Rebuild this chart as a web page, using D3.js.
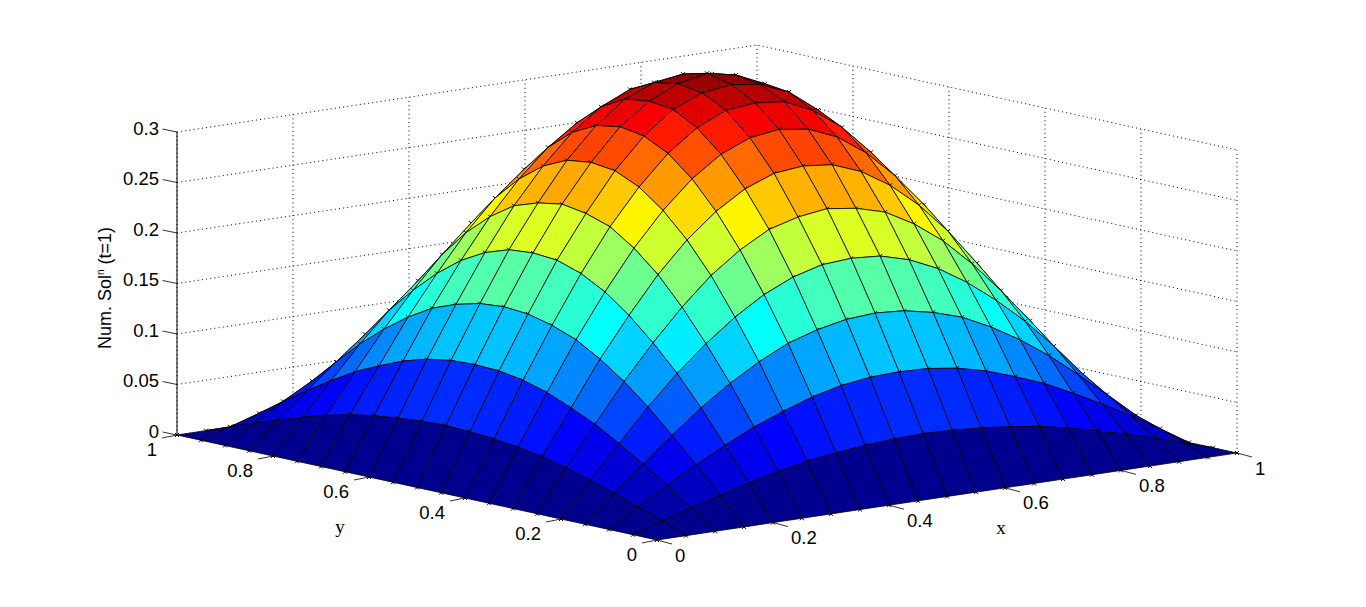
<!DOCTYPE html>
<html>
<head>
<meta charset="utf-8">
<script src="https://d3js.org/d3.v7.min.js"></script>
<style>
  body { margin: 0; background: white; }
  text { font-family: 'Liberation Sans', Arial, sans-serif; font-size: 18.5px; fill: #000; }
  .axis-name { font-family: 'Liberation Serif', 'Times New Roman', serif; font-size: 19px; }
  .z-name { font-size: 18px; }
</style>
</head>
<body>
<div id="chart"></div>
<script>
const gridX = [0,0.05,0.1,0.15,0.2,0.25,0.3,0.35,0.4,0.45,0.5,0.55,0.6,0.65,0.7,0.75,0.8,0.85,0.9,0.95,1]
const gridY = [0,0.05,0.1,0.15,0.2,0.25,0.3,0.35,0.4,0.45,0.5,0.55,0.6,0.65,0.7,0.75,0.8,0.85,0.9,0.95,1]

// surface heights, one row per x
const surfaceZ = [
  [0,0,0,0,0,0,0,0,0,0,0,0,0,0,0,0,0,0,0,0,0],
  [0,.009,.018,.026,.034,.041,.047,.051,.054,.056,.057,.056,.054,.051,.047,.041,.034,.026,.018,.009,0],
  [0,.018,.035,.051,.066,.080,.091,.101,.108,.112,.113,.112,.108,.101,.091,.080,.066,.051,.035,.018,0],
  [0,.026,.051,.075,.098,.118,.135,.149,.158,.164,.166,.164,.158,.149,.135,.118,.098,.075,.051,.026,0],
  [0,.034,.066,.098,.127,.152,.174,.192,.205,.213,.215,.213,.205,.192,.174,.152,.127,.098,.066,.034,0],
  [0,.041,.080,.118,.152,.183,.210,.231,.247,.255,.259,.255,.247,.231,.210,.183,.152,.118,.080,.041,0],
  [0,.047,.091,.135,.174,.210,.240,.264,.282,.293,.296,.293,.282,.264,.240,.210,.174,.135,.091,.047,0],
  [0,.051,.101,.149,.192,.231,.264,.291,.311,.323,.327,.323,.311,.291,.264,.231,.192,.149,.101,.051,0],
  [0,.054,.108,.158,.205,.247,.282,.311,.332,.345,.348,.345,.332,.311,.282,.247,.205,.158,.108,.054,0],
  [0,.056,.112,.164,.213,.255,.293,.323,.345,.357,.361,.357,.345,.323,.293,.255,.213,.164,.112,.056,0],
  [0,.057,.113,.166,.215,.259,.296,.327,.348,.361,.367,.361,.348,.327,.296,.259,.215,.166,.113,.057,0],
  [0,.056,.112,.164,.213,.255,.293,.323,.345,.357,.361,.357,.345,.323,.293,.255,.213,.164,.112,.056,0],
  [0,.054,.108,.158,.205,.247,.282,.311,.332,.345,.348,.345,.332,.311,.282,.247,.205,.158,.108,.054,0],
  [0,.051,.101,.149,.192,.231,.264,.291,.311,.323,.327,.323,.311,.291,.264,.231,.192,.149,.101,.051,0],
  [0,.047,.091,.135,.174,.210,.240,.264,.282,.293,.296,.293,.282,.264,.240,.210,.174,.135,.091,.047,0],
  [0,.041,.080,.118,.152,.183,.210,.231,.247,.255,.259,.255,.247,.231,.210,.183,.152,.118,.080,.041,0],
  [0,.034,.066,.098,.127,.152,.174,.192,.205,.213,.215,.213,.205,.192,.174,.152,.127,.098,.066,.034,0],
  [0,.026,.051,.075,.098,.118,.135,.149,.158,.164,.166,.164,.158,.149,.135,.118,.098,.075,.051,.026,0],
  [0,.018,.035,.051,.066,.080,.091,.101,.108,.112,.113,.112,.108,.101,.091,.080,.066,.051,.035,.018,0],
  [0,.009,.018,.026,.034,.041,.047,.051,.054,.056,.057,.056,.054,.051,.047,.041,.034,.026,.018,.009,0],
  [0,0,0,0,0,0,0,0,0,0,0,0,0,0,0,0,0,0,0,0,0]
]

const xTicks = [0,0.2,0.4,0.6,0.8,1]
const yTicks = [0,0.2,0.4,0.6,0.8,1]
const zTicks = [0,0.05,0.1,0.15,0.2,0.25,0.3]

const jetStops = [0,0.111,0.365,0.619,0.873,1]
const jetColors = ['#00008f','#0000ff','#00ffff','#ffff00','#ff0000','#800000']

const width = 1366
const height = 607

// fixed 3d view: one scale per screen contribution of each data axis
const originX = 657
const originY = 540
const xAcross = d3.scaleLinear().domain([0,1]).range([0,580])
const xDown = d3.scaleLinear().domain([0,1]).range([0,-87])
const yAcross = d3.scaleLinear().domain([0,1]).range([0,-480])
const yDown = d3.scaleLinear().domain([0,1]).range([0,-105])
const zDown = d3.scaleLinear().domain([0,0.3]).range([0,-303])

function project(x, y, z) {
  return [originX + xAcross(x) + yAcross(y), originY + xDown(x) + yDown(y) + zDown(z)]
}

const zMax = d3.max(surfaceZ, function (row) { return d3.max(row) })
const jet = d3.scaleLinear()
  .domain(jetStops.map(function (s) { return s * zMax }))
  .range(jetColors)
  .interpolate(d3.interpolateRgb)

const line = d3.line()

const svg = d3.select('#chart')
  .append('svg')
  .attr('width', width)
  .attr('height', height)

// back walls
const walls = svg.append('g')
  .attr('fill', 'none')
  .attr('stroke', '#000')
  .attr('stroke-width', 1)
  .attr('stroke-dasharray', '1 3.2')

zTicks.forEach(function (z) {
  walls.append('path').attr('d', line([project(0,1,z), project(1,1,z), project(1,0,z)]))
})
xTicks.forEach(function (x) {
  walls.append('path').attr('d', line([project(x,1,0), project(x,1,0.3)]))
})
yTicks.slice(0, -1).forEach(function (y) {
  walls.append('path').attr('d', line([project(1,y,0), project(1,y,0.3)]))
})

// z axis line
svg.append('path')
  .attr('d', line([project(0,1,0), project(0,1,0.3)]))
  .attr('fill', 'none')
  .attr('stroke', '#000')
  .attr('stroke-width', 1)

// surface, painted from the far corner to the near one
const surface = svg.append('g')

for (let i = gridX.length - 1; i >= 0; i--) {
  for (let j = gridY.length - 1; j >= 0; j--) {
    if (i < gridX.length - 1 && j < gridY.length - 1) {
      surface.append('path')
        .attr('d', line([
          project(gridX[i], gridY[j], surfaceZ[i][j]),
          project(gridX[i + 1], gridY[j], surfaceZ[i + 1][j]),
          project(gridX[i + 1], gridY[j + 1], surfaceZ[i + 1][j + 1]),
          project(gridX[i], gridY[j + 1], surfaceZ[i][j + 1])
        ]) + 'Z')
        .attr('fill', jet(surfaceZ[i][j]))
        .attr('stroke', '#000')
        .attr('stroke-width', 0.8)
    }
    const p = project(gridX[i], gridY[j], surfaceZ[i][j])
    surface.append('path')
      .attr('d', 'M-2,-2L2,2M-2,2L2,-2')
      .attr('transform', 'translate(' + p[0] + ',' + p[1] + ')')
      .attr('stroke', '#000')
      .attr('stroke-width', 1)
      .attr('fill', 'none')
  }
}

// ticks and labels
const ticks = svg.append('g')
  .attr('fill', 'none')
  .attr('stroke', '#000')
  .attr('stroke-width', 0.8)

zTicks.forEach(function (z) {
  const p = project(0,1,z)
  ticks.append('path').attr('d', line([p, [p[0] - 14.5, p[1] - 3]]))
  svg.append('text')
    .attr('x', p[0] - 18)
    .attr('y', p[1] - 4)
    .attr('dy', '0.36em')
    .attr('text-anchor', 'end')
    .text(String(z))
})

yTicks.forEach(function (y) {
  const p = project(0,y,0)
  ticks.append('path').attr('d', line([p, [p[0] - 15, p[1] + 3]]))
  svg.append('text')
    .attr('x', p[0] - 20)
    .attr('y', p[1] + 14)
    .attr('dy', '0.36em')
    .attr('text-anchor', 'end')
    .text(String(y))
})

xTicks.forEach(function (x) {
  const p = project(x,0,0)
  ticks.append('path').attr('d', line([p, [p[0] + 15, p[1] + 4]]))
  svg.append('text')
    .attr('x', p[0] + 18)
    .attr('y', p[1] + 15)
    .attr('dy', '0.36em')
    .text(String(x))
})

svg.append('text').attr('class', 'axis-name')
  .attr('x', 340)
  .attr('y', 527)
  .attr('dy', '0.3em')
  .attr('text-anchor', 'middle')
  .text('y')

svg.append('text').attr('class', 'axis-name')
  .attr('x', 1001)
  .attr('y', 528)
  .attr('dy', '0.3em')
  .attr('text-anchor', 'middle')
  .text('x')

const zLabel = svg.append('text')
  .attr('class', 'z-name')
  .attr('transform', 'translate(111,349) rotate(-90)')
zLabel.append('tspan').text('Num. Sol')
zLabel.append('tspan').attr('dy', -7).style('font-size', '10px').text('n')
zLabel.append('tspan').attr('dy', 7).text(' (t=1)')
</script>
</body>
</html>
